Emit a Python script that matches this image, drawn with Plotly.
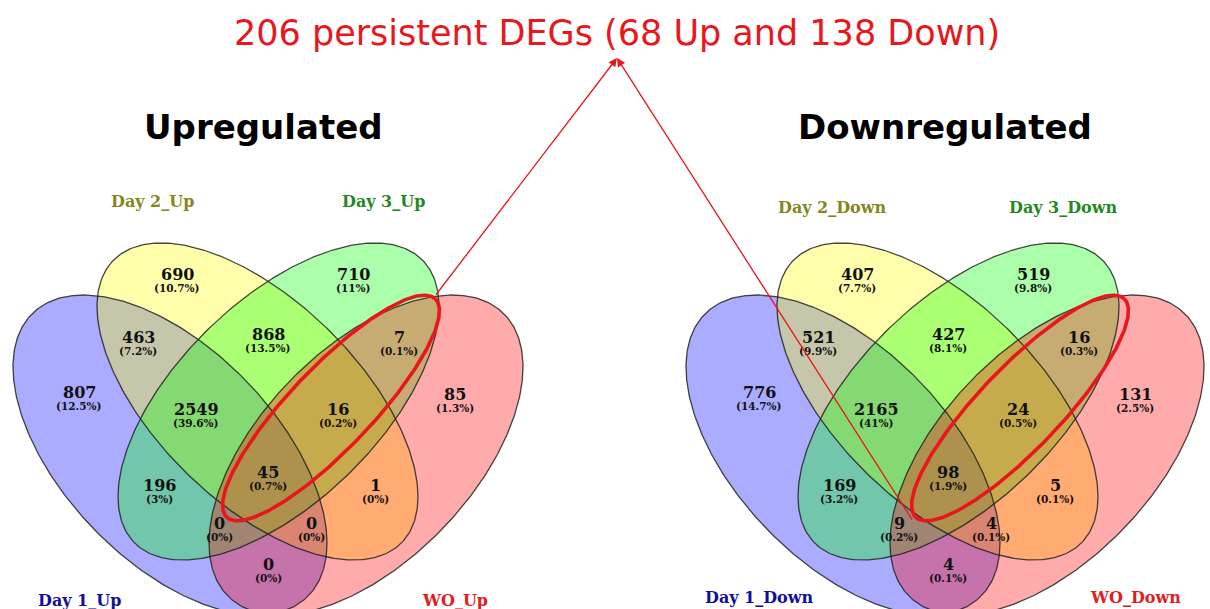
import numpy as np
import plotly.graph_objects as go

# ---------------- data ----------------
# Regions of the 4-set Venn: A = Day 1, B = Day 2, C = Day 3, D = WO
region_keys = ["A", "B", "C", "D", "AB", "BC", "CD", "ABC", "BCD",
               "AC", "BD", "ABCD", "ACD", "ABD", "AD"]
up_counts = [807, 690, 710, 85, 463, 868, 7, 2549, 16, 196, 1, 45, 0, 0, 0]
down_counts = [776, 407, 519, 131, 521, 427, 16, 2165, 24, 169, 5, 98, 9, 4, 4]
persistent_keys = ["CD", "BCD", "ABCD"]

up_set_names = ["Day 1_Up", "Day 2_Up", "Day 3_Up", "WO_Up"]
down_set_names = ["Day 1_Down", "Day 2_Down", "Day 3_Down", "WO_Down"]
panel_titles = ["Upregulated", "Downregulated"]

# ---------------- geometry (pixels) ----------------
W, H = 1210, 609
panel_axis = [268, 948]          # symmetry axis of each Venn panel
outer_shift = [0, -7]            # small horizontal nudge of the outer pair
outer_axis = [268, 945]          # mirror axis of the outer pair

# region label anchor: (offset from the panel axis, y)
label_anchor = {
    "A": (-189, 399), "B": (-91, 281), "C": (85, 281), "D": (187, 401),
    "AB": (-130, 344), "BC": (0, 341), "CD": (131, 344),
    "ABC": (-72, 416), "BCD": (70, 416),
    "AC": (-109, 492), "BD": (107, 492), "ABCD": (0, 479),
    "ACD": (-49, 530), "ABD": (43, 530), "AD": (0, 571),
}

set_colors_fill = ["rgba(0,0,255,0.33)", "rgba(255,255,0,0.33)",
                   "rgba(0,255,0,0.33)", "rgba(255,0,0,0.33)"]
set_label_colors = ["#10109a", "#86861c", "#1f8a1f", "#e0201c"]
set_label_dx = [-189, -116, 115, 187]
set_label_y = [(600, 201, 201, 600), (597, 207, 207, 597)]

RED = "#e8171d"


def venn_ellipse(cx, cy, ex, ey, alpha_deg, axis=None):
    """Ellipse with horizontal half-extent ex, vertical half-extent ey,
    leaning with its top to the left; mirrored about `axis` if given."""
    t = np.linspace(0, 2 * np.pi, 400)
    a = np.deg2rad(alpha_deg)
    x = cx + ex * np.cos(t)
    y = cy + ey * np.cos(t + a)
    if axis is not None:
        x = 2 * axis - x
    return x, y


def tilted_ellipse(cx, cy, a, b, ang_deg):
    t = np.linspace(0, 2 * np.pi, 400)
    th = np.deg2rad(ang_deg)
    x = cx + a * np.cos(t) * np.cos(th) - b * np.sin(t) * np.sin(th)
    y = cy - (a * np.cos(t) * np.sin(th) + b * np.sin(t) * np.cos(th))
    return x, y


def pct_text(v, total):
    p = round(100.0 * v / total, 1)
    return f"({p:g}%)"


fig = go.Figure()
annotations = []

panels = [(up_counts, up_set_names), (down_counts, down_set_names)]
red_centers = [(331, 408), (1020, 408)]

for pi, (counts, names) in enumerate(panels):
    x0 = panel_axis[pi]
    bx = x0 - 98 + outer_shift[pi]
    shapes_xy = [
        venn_ellipse(bx, 455, 157, 160, 56.6),                        # Day 1
        venn_ellipse(x0 - 10.5, 401.5, 160.5, 158.5, 53.13),          # Day 2
        venn_ellipse(x0 - 10.5, 401.5, 160.5, 158.5, 53.13, axis=x0), # Day 3
        venn_ellipse(bx, 455, 157, 160, 56.6, axis=outer_axis[pi]),   # WO
    ]
    for (ex_, ey_), fc in zip(shapes_xy, set_colors_fill):
        fig.add_trace(go.Scatter(x=ex_, y=ey_, mode="lines", fill="toself",
                                 fillcolor=fc, line=dict(width=0),
                                 hoverinfo="skip"))
    for ex_, ey_ in shapes_xy:
        fig.add_trace(go.Scatter(x=ex_, y=ey_, mode="lines",
                                 line=dict(color="rgba(35,35,35,0.85)", width=1.3),
                                 hoverinfo="skip"))

    # highlight around the persistent regions
    rx, ry = tilted_ellipse(red_centers[pi][0], red_centers[pi][1], 151, 41, 46.3)
    fig.add_trace(go.Scatter(x=rx, y=ry, mode="lines",
                             line=dict(color=RED, width=3.6), hoverinfo="skip"))

    total = sum(counts)
    for key, v in zip(region_keys, counts):
        dx, ay = label_anchor[key]
        annotations.append(dict(x=x0 + dx, y=ay - 7, text=f"<b>{v}</b>",
                                showarrow=False, xref="x", yref="y",
                                font=dict(family="DejaVu Serif", size=16, color="#111")))
        annotations.append(dict(x=x0 + dx, y=ay + 7, text=f"<b>{pct_text(v, total)}</b>",
                                showarrow=False, xref="x", yref="y",
                                font=dict(family="DejaVu Serif", size=10.5, color="#111")))

    for si, name in enumerate(names):
        annotations.append(dict(x=x0 + set_label_dx[si], y=set_label_y[pi][si],
                                text=f"<b>{name}</b>", showarrow=False,
                                xref="x", yref="y",
                                font=dict(family="DejaVu Serif", size=16,
                                          color=set_label_colors[si])))

    annotations.append(dict(x=[263, 945][pi], y=127, text=f"<b>{panel_titles[pi]}</b>",
                            showarrow=False, xref="x", yref="y",
                            font=dict(family="DejaVu Sans", size=34, color="black")))

# headline built from the persistent regions
up_p = sum(v for k, v in zip(region_keys, up_counts) if k in persistent_keys)
down_p = sum(v for k, v in zip(region_keys, down_counts) if k in persistent_keys)
annotations.append(dict(x=617, y=33,
                        text=f"{up_p + down_p} persistent DEGs ({up_p} Up and {down_p} Down)",
                        showarrow=False, xref="x", yref="y",
                        font=dict(family="DejaVu Sans", size=35, color=RED)))

# arrows from both highlights to the headline
for sx, sy in [(435, 296), (913, 521)]:
    annotations.append(dict(x=617, y=58, ax=sx, ay=sy, xref="x", yref="y",
                            axref="x", ayref="y", text="", showarrow=True,
                            arrowhead=2, arrowsize=1.3, arrowwidth=1.3,
                            arrowcolor=RED, standoff=0))

fig.update_layout(
    width=W, height=H, margin=dict(l=0, r=0, t=0, b=0),
    paper_bgcolor="white", plot_bgcolor="white", showlegend=False,
    xaxis=dict(range=[0, W], visible=False, fixedrange=True),
    yaxis=dict(range=[H, 0], visible=False, fixedrange=True),
    annotations=annotations,
)

fig.write_html("out.html")
